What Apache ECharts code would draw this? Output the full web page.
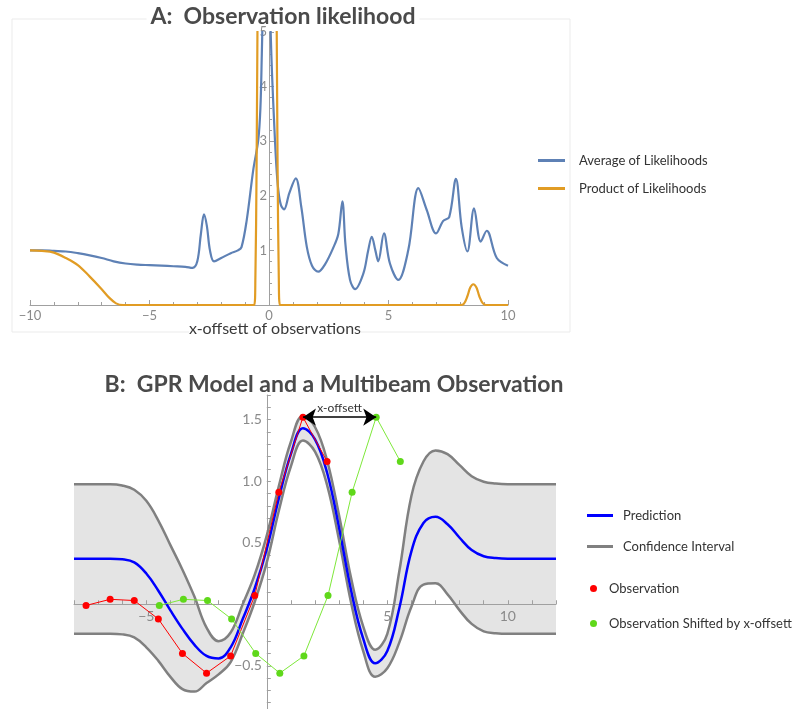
<!DOCTYPE html>
<html>
<head>
<meta charset="utf-8">
<script src="https://cdn.jsdelivr.net/npm/echarts@6/dist/echarts.min.js"></script>
<style>
  html, body { margin: 0; padding: 0; background: #fff; }
  #chart { width: 802px; height: 709px; }
</style>
</head>
<body>
<div id="chart"></div>
<script>
// panel A: likelihood curves
const avgX = [-10, -9.5, -9, -8.5, -8, -7.5, -7, -6.5, -6, -5.5, -5, -4.5, -4, -3.5, -3.2, -3.0, -2.85, -2.72, -2.6, -2.47, -2.3, -2.0, -1.6, -1.3, -1.15, -0.93, -0.66, -0.45, -0.36, -0.3, -0.2, -0.1, 0.0, 0.07, 0.13, 0.21, 0.3, 0.39, 0.5, 0.63, 0.85, 1.12, 1.35, 1.58, 1.8, 2.06, 2.35, 2.69, 2.9, 3.07, 3.2, 3.39, 3.6, 3.95, 4.15, 4.3, 4.45, 4.57, 4.81, 5.06, 5.41, 5.83, 6.25, 6.6, 6.99, 7.29, 7.54, 7.82, 8.06, 8.3, 8.58, 8.86, 9.11, 9.53, 10];
const avgY = [1.0, 1.0, 0.99, 0.98, 0.95, 0.91, 0.86, 0.8, 0.76, 0.74, 0.73, 0.72, 0.71, 0.7, 0.68, 0.8, 1.3, 1.66, 1.45, 1.0, 0.8, 0.86, 0.95, 1.0, 1.06, 1.56, 2.47, 3.02, 3.6, 4.6, 6.5, 7.5, 6.5, 5.0, 4.2, 3.39, 2.6, 2.1, 1.83, 1.75, 2.05, 2.32, 1.8, 1.07, 0.72, 0.61, 0.75, 1.05, 1.3, 1.9, 1.1, 0.46, 0.29, 0.58, 1.0, 1.25, 1.0, 0.8, 1.31, 0.76, 0.46, 1.01, 2.14, 1.74, 1.31, 1.54, 1.61, 2.31, 1.43, 0.98, 1.77, 1.16, 1.36, 0.86, 0.72];
const prodX = [-10, -9.5, -9, -8.5, -8, -7.5, -7, -6.7, -6.4, -6.1, -5.5, -1, -0.62, -0.57, -0.52, -0.47, -0.42, 0.26, 0.31, 0.36, 0.41, 0.46, 1, 8, 8.15, 8.3, 8.42, 8.55, 8.68, 8.8, 8.95, 9.1, 10];
const prodY = [1.0, 0.99, 0.96, 0.86, 0.73, 0.52, 0.29, 0.14, 0.03, 0, 0, 0, 0, 0.5, 2.5, 6, 9, 9, 6, 2.5, 0.5, 0, 0, 0, 0.02, 0.16, 0.32, 0.38, 0.32, 0.16, 0.03, 0, 0];

// panel B: GPR model
const gprX = [-8, -7.5, -7, -6.5, -6, -5.5, -5, -4.5, -4, -3.5, -3, -2.5, -2, -1.5, -1, -0.5, 0, 0.5, 1, 1.5, 2, 2.5, 3, 3.5, 4, 4.5, 5, 5.5, 6, 6.5, 7, 7.5, 8, 8.5, 9, 9.5, 10, 10.5, 11, 11.5, 12];
const gprMean = [0.37, 0.37, 0.37, 0.37, 0.365, 0.34, 0.25, 0.11, -0.05, -0.2, -0.33, -0.42, -0.44, -0.35, -0.12, 0.13, 0.45, 0.86, 1.22, 1.43, 1.34, 1.07, 0.62, 0.11, -0.28, -0.48, -0.38, -0.03, 0.43, 0.66, 0.71, 0.65, 0.54, 0.44, 0.39, 0.375, 0.37, 0.37, 0.37, 0.37, 0.37];
const gprUpper = [0.975, 0.975, 0.975, 0.975, 0.965, 0.93, 0.84, 0.68, 0.48, 0.28, 0.06, -0.19, -0.3, -0.23, 0.0, 0.24, 0.56, 0.96, 1.32, 1.53, 1.44, 1.17, 0.72, 0.21, -0.18, -0.37, -0.24, 0.27, 0.88, 1.16, 1.25, 1.22, 1.13, 1.04, 0.995, 0.98, 0.975, 0.975, 0.975, 0.975, 0.975];
const gprLower = [-0.24, -0.24, -0.24, -0.24, -0.245, -0.27, -0.35, -0.46, -0.59, -0.69, -0.71, -0.64, -0.57, -0.47, -0.24, 0.02, 0.34, 0.76, 1.12, 1.33, 1.24, 0.97, 0.52, 0.01, -0.38, -0.59, -0.52, -0.31, -0.02, 0.16, 0.17, 0.08, -0.05, -0.16, -0.22, -0.235, -0.24, -0.24, -0.24, -0.24, -0.24];

const obsX = [-7.5, -6.5, -5.5, -4.5, -3.5, -2.5, -1.5, -0.5, 0.5, 1.5, 2.5];
const obsY = [-0.01, 0.04, 0.03, -0.12, -0.40, -0.56, -0.42, 0.07, 0.91, 1.52, 1.16];
const shiftX = [-4.46, -3.46, -2.46, -1.46, -0.46, 0.54, 1.54, 2.54, 3.54, 4.54, 5.54];
const shiftY = [-0.01, 0.04, 0.03, -0.12, -0.40, -0.56, -0.42, 0.07, 0.91, 1.52, 1.16];

// tick labels
const xLabelsA = [-10, -5, 0, 5, 10];
const yLabelsA = [1, 2, 3, 4, 5];
const xLabelsB = [-5, 5, 10];
const yLabelsB = [-0.5, 0.5, 1.0, 1.5];

const zip = (xs, ys) => xs.map((x, i) => [x, ys[i]]);
const minus = s => s.replace('-', '\u2212');
const hasLabel = (list, v) => list.some(t => Math.abs(t - v) < 1e-6);

const axisColor = '#a0a0a0';
const labelColor = '#8a8a8a';
const peak = obsY.indexOf(Math.max(...obsY));

// grid boxes; the axes are pushed in to cross at the origin
const gridA = { left: 30, top: 32, width: 478, height: 273 };
const gridB = { left: 74, top: 395, width: 482, height: 320 };
const rangeA = { xmin: -10, xmax: 10 };
const rangeB = { xmin: -8, xmax: 12, ymin: -0.9, ymax: 1.7 };
const yAxisShiftA = -(0 - rangeA.xmin) / (rangeA.xmax - rangeA.xmin) * gridA.width;
const yAxisShiftB = -(0 - rangeB.xmin) / (rangeB.xmax - rangeB.xmin) * gridB.width;
const xAxisShiftB = -(0 - rangeB.ymin) / (rangeB.ymax - rangeB.ymin) * gridB.height;

const chart = echarts.init(document.getElementById('chart'));
chart.setOption({
  animation: false,
  textStyle: { fontFamily: 'Lato' },
  grid: [
    Object.assign({ outerBoundsMode: 'none', containLabel: false }, gridA),
    Object.assign({ outerBoundsMode: 'none', containLabel: false }, gridB)
  ],
  xAxis: [
    {
      type: 'value', gridIndex: 0, min: rangeA.xmin, max: rangeA.xmax, interval: 5,
      axisLine: { lineStyle: { color: axisColor } },
      axisTick: { inside: true, length: 5, lineStyle: { color: axisColor } },
      minorTick: { show: true, splitNumber: 5, length: 3, lineStyle: { color: axisColor } },
      axisLabel: {
        color: labelColor, fontSize: 13, margin: 4,
        formatter: v => hasLabel(xLabelsA, v) ? minus(String(v)) : ''
      },
      splitLine: { show: false }
    },
    {
      type: 'value', gridIndex: 1, min: rangeB.xmin, max: rangeB.xmax, interval: 1,
      position: 'bottom', offset: xAxisShiftB, z: 1.5,
      axisLine: { onZero: false, lineStyle: { color: axisColor } },
      axisTick: { inside: true, length: 4, lineStyle: { color: axisColor } },
      axisLabel: {
        color: labelColor, fontSize: 14, margin: 5,
        formatter: v => hasLabel(xLabelsB, v) ? minus(String(v)) : ''
      },
      splitLine: { show: false }
    }
  ],
  yAxis: [
    {
      type: 'value', gridIndex: 0, min: 0, max: 5, interval: 1,
      position: 'left', offset: yAxisShiftA,
      axisLine: { show: true, onZero: false, lineStyle: { color: axisColor } },
      axisTick: { show: true, inside: true, length: 5, lineStyle: { color: axisColor } },
      minorTick: { show: true, splitNumber: 5, length: 3, lineStyle: { color: axisColor } },
      axisLabel: {
        color: labelColor, fontSize: 13, margin: 2,
        formatter: v => hasLabel(yLabelsA, v) ? String(v) : ''
      },
      splitLine: { show: false }
    },
    {
      type: 'value', gridIndex: 1, min: rangeB.ymin, max: rangeB.ymax, interval: 0.1,
      position: 'left', offset: yAxisShiftB, z: 1.5,
      axisLine: { show: true, onZero: false, lineStyle: { color: axisColor } },
      axisTick: { show: true, inside: true, length: 4, lineStyle: { color: axisColor } },
      axisLabel: {
        color: labelColor, fontSize: 14, margin: 5,
        formatter: v => hasLabel(yLabelsB, v) ? minus(v.toFixed(1)) : ''
      },
      splitLine: { show: false }
    }
  ],
  legend: [
    {
      data: ['Average of Likelihoods', 'Product of Likelihoods'],
      orient: 'vertical', left: 533, top: 149, icon: 'rect',
      itemWidth: 27, itemHeight: 3, itemGap: 15,
      textStyle: { fontSize: 13, color: '#333', padding: [0, 0, 0, 9] }
    },
    {
      data: ['Prediction', 'Confidence Interval'],
      orient: 'vertical', left: 582, top: 504, icon: 'rect',
      itemWidth: 26, itemHeight: 3, itemGap: 18,
      textStyle: { fontSize: 13, color: '#333', padding: [0, 0, 0, 5] }
    },
    {
      data: ['Observation', 'Observation Shifted by x-offsett'],
      orient: 'vertical', left: 585, top: 577, icon: 'circle',
      itemWidth: 7, itemHeight: 7, itemGap: 22,
      textStyle: { fontSize: 13, color: '#333', padding: [0, 0, 0, 7] }
    }
  ],
  series: [
    {
      name: 'Average of Likelihoods', type: 'line', xAxisIndex: 0, yAxisIndex: 0,
      data: zip(avgX, avgY), symbol: 'none', smooth: 0.35, color: '#5e81b5',
      lineStyle: { width: 2.2, color: '#5e81b5' }
    },
    {
      name: 'Product of Likelihoods', type: 'line', xAxisIndex: 0, yAxisIndex: 0,
      data: zip(prodX, prodY), symbol: 'none', smooth: 0.35, color: '#e19c24',
      lineStyle: { width: 2.2, color: '#e19c24' }
    },
    // band: grey fill under the upper bound, then white fill under the lower bound
    {
      name: 'bandUpper', type: 'line', xAxisIndex: 1, yAxisIndex: 1, z: 1,
      data: zip(gprX, gprUpper), symbol: 'none', smooth: 0.4, silent: true,
      lineStyle: { opacity: 0 }, areaStyle: { color: '#e4e4e4', opacity: 1, origin: 'start' }
    },
    {
      name: 'bandLower', type: 'line', xAxisIndex: 1, yAxisIndex: 1, z: 1,
      data: zip(gprX, gprLower), symbol: 'none', smooth: 0.4, silent: true,
      lineStyle: { opacity: 0 }, areaStyle: { color: '#ffffff', opacity: 1, origin: 'start' }
    },
    {
      name: 'Confidence Interval', type: 'line', xAxisIndex: 1, yAxisIndex: 1,
      data: zip(gprX, gprUpper), symbol: 'none', smooth: 0.4, color: '#808080',
      lineStyle: { width: 2.5, color: '#808080' }
    },
    {
      name: 'Confidence Interval', type: 'line', xAxisIndex: 1, yAxisIndex: 1,
      data: zip(gprX, gprLower), symbol: 'none', smooth: 0.4, color: '#808080',
      lineStyle: { width: 2.5, color: '#808080' }
    },
    {
      name: 'Prediction', type: 'line', xAxisIndex: 1, yAxisIndex: 1,
      data: zip(gprX, gprMean), symbol: 'none', smooth: 0.4, color: '#0000ff',
      lineStyle: { width: 2.5, color: '#0000ff' }
    },
    {
      name: 'Observation', type: 'line', xAxisIndex: 1, yAxisIndex: 1,
      data: zip(obsX, obsY), symbol: 'circle', symbolSize: 7, color: '#ff0000',
      lineStyle: { width: 1, color: '#ff0000' }, itemStyle: { color: '#ff0000' }
    },
    {
      name: 'Observation Shifted by x-offsett', type: 'line', xAxisIndex: 1, yAxisIndex: 1,
      data: zip(shiftX, shiftY), symbol: 'circle', symbolSize: 7, color: '#5fd81a',
      lineStyle: { width: 1, color: '#7ee83a' }, itemStyle: { color: '#5fd81a' },
      markLine: {
        silent: true, symbol: ['arrow', 'arrow'], symbolSize: 13, precision: 2,
        lineStyle: { color: '#000', width: 1.5, type: 'solid' },
        label: { show: true, position: 'middle', formatter: 'x-offsett', color: '#333', fontSize: 12, distance: 3 },
        data: [[
          { coord: [obsX[peak], obsY[peak]] },
          { coord: [shiftX[peak], obsY[peak]] }
        ]]
      }
    }
  ],
  graphic: [
    {
      type: 'rect', z: -1, silent: true,
      shape: { x: 12, y: 19, width: 558, height: 313 },
      style: { fill: 'none', stroke: '#ebebeb', lineWidth: 1 }
    },
    {
      type: 'text', x: 283, y: 17, silent: true,
      style: {
        text: 'A:  Observation likelihood', fontSize: 23, fontWeight: 'bold', fontFamily: 'Lato',
        fill: '#4a4a4a', align: 'center', verticalAlign: 'middle', backgroundColor: '#fff', padding: [0, 4]
      }
    },
    {
      type: 'text', x: 275, y: 329, silent: true,
      style: {
        text: 'x-offsett of observations', fontSize: 16, fontFamily: 'Lato',
        fill: '#3a3a3a', align: 'center', verticalAlign: 'middle', backgroundColor: '#fff'
      }
    },
    {
      type: 'text', x: 334, y: 385, silent: true,
      style: {
        text: 'B:  GPR Model and a Multibeam Observation', fontSize: 23, fontWeight: 'bold', fontFamily: 'Lato',
        fill: '#4a4a4a', align: 'center', verticalAlign: 'middle'
      }
    }
  ]
});
</script>
</body>
</html>
